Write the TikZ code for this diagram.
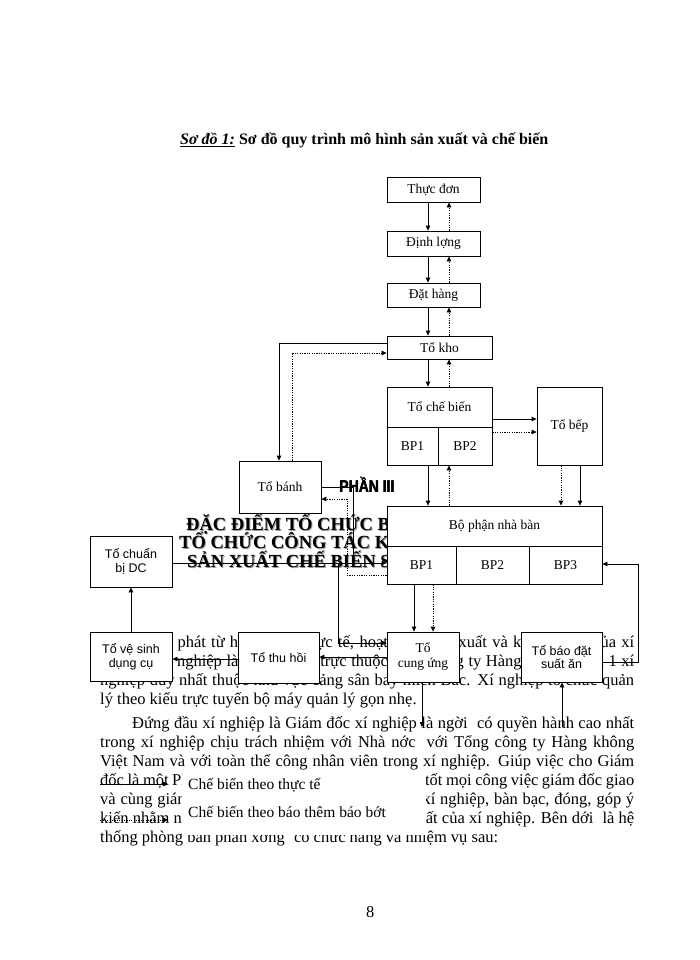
\documentclass[tikz,border=0pt]{standalone}
\usepackage{fontspec}
\usepackage{graphicx}
\setmainfont{Liberation Serif}
\newfontfamily\sansfam{Liberation Sans}
\usetikzlibrary{arrows.meta,calc}
\newcommand\fbody{\fontsize{16.5pt}{19pt}\selectfont}
\newcommand\flab{\fontsize{13.5pt}{15pt}\selectfont}
\newcommand\fsans{\sansfam\fontsize{12.5pt}{13.5pt}\selectfont}
\newcommand\fhead{\bfseries\fontsize{18.5pt}{20pt}\selectfont}
\newcommand\ftitle{\fontsize{16pt}{18pt}\selectfont}
\newcommand\fleg{\fontsize{15.5pt}{18pt}\selectfont}
\newcommand\fpart{\sansfam\bfseries\fontsize{17pt}{17pt}\selectfont}
\newcommand\jline[4]{\node[txt] (#1) at (#2,#3) {\makebox[\dimexpr 634pt-#2pt\relax][s]{#4}};}
\begin{document}
\begin{tikzpicture}[x=1pt,y=-1pt,
 box/.style={draw, fill=white, line width=0.8pt, inner sep=0pt, align=center, font=\flab},
 sbox/.style={box, font=\fsans},
 ln/.style={line width=0.8pt},
 sol/.style={ln, -{Triangle[length=5pt,width=4.5pt]}},
 dot/.style={ln, dash pattern=on 1.2pt off 1.2pt, -{Triangle[length=5pt,width=4.5pt]}},
 txt/.style={anchor=base west, inner sep=0pt, font=\fbody},
 hd/.style={anchor=base west, inner sep=0pt, font=\fhead},
 hds/.style={hd, text=black!40},
 pt/.style={anchor=base west, inner sep=0pt, font=\fpart},
]
\useasboundingbox[fill=white] (0,0) rectangle (700,960);

% title
\node[anchor=base west, inner sep=0pt, font=\ftitle] (ttl) at (180,145) {\textbf{\textit{\underline{Sơ đồ 1:}}} \textbf{Sơ đồ quy trình mô hình sản xuất và chế biến}};

% heading
\node[pt] (ph0) at (339,492) {\scalebox{0.82}[1]{PHẦN III}};
\node[pt] (ph1) at (339.5,492) {\scalebox{0.82}[1]{PHẦN III}};
\node[pt] (ph2) at (339.25,492.4) {\scalebox{0.82}[1]{PHẦN III}};
\node[hds] (h1s) at (187,531) {ĐẶC ĐIỂM TỔ CHỨC BỘ MÁY};
\node[hd] (h1) at (186,530) {ĐẶC ĐIỂM TỔ CHỨC BỘ MÁY};
\node[hds] (h2s) at (180,549.5) {TỔ CHỨC CÔNG TÁC KẾ TOÁN};
\node[hd] (h2) at (179,548.5) {TỔ CHỨC CÔNG TÁC KẾ TOÁN};
\node[hds] (h3s) at (188,568) {SẢN XUẤT CHẾ BIẾN SUẤT ĂN};
\node[hd] (h3) at (187,567) {SẢN XUẤT CHẾ BIẾN SUẤT ĂN};

% body text
\jline{r1}{140}{647}{Xuất phát từ hoàn cảnh thực tế, hoạt động sản xuất và kinh doanh của xí}
\jline{r2}{100}{666}{nghiệp. Xí nghiệp là một đơn vị trực thuộc Tổng công ty Hàng không và là 1 xí}
\jline{r3}{100}{685}{nghiệp duy nhất thuộc khu vực cảng sân bay miền Bắc. Xí nghiệp tổ chức quản}
\node[txt] (r4) at (100,704) {lý theo kiểu trực tuyến bộ máy quản lý gọn nhẹ.};
\jline{r5}{132}{728}{Đứng đầu xí nghiệp là Giám đốc xí nghiệp là ngời\hspace{5pt} có quyền hành cao nhất}
\jline{r6}{100}{747}{trong xí nghiệp chịu trách nhiệm với Nhà nớc\hspace{5pt} với Tổng công ty Hàng không}
\jline{r7}{100}{766}{Việt Nam và với toàn thể công nhân viên trong xí nghiệp. Giúp việc cho Giám}
\jline{r8}{100}{785}{đốc là một Phó giám đốc có nhiệm vụ hoàn thành tốt mọi công việc giám đốc giao}
\jline{r9}{100}{804}{và cùng giám đốc điều hành mọi hoạt động của xí nghiệp, bàn bạc, đóng, góp ý}
\jline{r10}{100}{823}{kiến nhằm nâng cao hơn nữa hiệu quả của sản xuất của xí nghiệp. Bên dới\hspace{5pt} là hệ}
\node[txt] (r11) at (100,842) {thống phòng ban phân xởng\hspace{5pt} có chức năng và nhiệm vụ sau:};
\node[txt] (pg) at (366,917) {8};

% boxes
\node[box, minimum width=93pt, minimum height=25pt] (td) at (433.5,189.5) {Thực đơn};
\node[box, minimum width=93pt, minimum height=25pt] (dl) at (433.5,243.5) {Định lợng};
\node[box, minimum width=93pt, minimum height=24pt] (dh) at (433.5,295) {Đặt hàng};
\node[box, minimum width=105pt, minimum height=23pt] (tk) at (439.5,347.5) {Tổ kho};
\node[box, minimum width=105pt, minimum height=40pt] (tcb) at (439.5,407) {Tổ chế biến};
\node[box, minimum width=51pt, minimum height=38pt] (cb1) at (412.5,446) {BP1};
\node[box, minimum width=54pt, minimum height=38pt] (cb2) at (465,446) {BP2};
\node[box, minimum width=65pt, minimum height=78pt] (tbep) at (569.5,426) {Tổ bếp};
\node[box, minimum width=82pt, minimum height=52pt] (tbanh) at (280,487) {Tổ bánh};
\node[box, minimum width=215pt, minimum height=40pt] (bpt) at (494.5,526) {Bộ phận nhà bàn};
\node[box, minimum width=69pt, minimum height=38pt] (bp1) at (421.5,565) {BP1};
\node[box, minimum width=73pt, minimum height=38pt] (bp2) at (492.5,565) {BP2};
\node[box, minimum width=73pt, minimum height=38pt] (bp3) at (565.5,565) {BP3};
\node[sbox, minimum width=82pt, minimum height=51pt] (tdc) at (131,561.5) {Tổ chuẩn\\bị DC};
\node[sbox, minimum width=82pt, minimum height=49pt] (tvs) at (131,656.5) {Tổ vệ sinh\\dụng cụ};
\node[sbox, minimum width=81pt, minimum height=51pt] (tth) at (278.5,657.5) {Tổ thu hồi};
\node[box, minimum width=72pt, minimum height=50pt] (tcu) at (423,657) {Tổ\\cung ứng};
\node[sbox, minimum width=81pt, minimum height=50pt] (tbd) at (561.5,657) {Tổ báo đặt\\suất ăn};

% coordinates
\coordinate (vA) at (428,0);
\coordinate (vB) at (449,0);
\coordinate (vC) at (561,0);
\coordinate (vD) at (580,0);
\coordinate (vE) at (414,0);
\coordinate (vF) at (433,0);
\coordinate (vG) at (422,0);
\coordinate (hK1) at (279,343);
\coordinate (hK2) at (292,353);
\coordinate (hA) at (0,419);
\coordinate (hB) at (0,432);
\coordinate (j1) at (353,563);
\coordinate (j2) at (338,563);
\coordinate (hT) at (0,487);
\coordinate (hC) at (0,643);
\coordinate (q1) at (0,575);
\coordinate (q2) at (347,499);
\coordinate (hU) at (0,657);
\coordinate (hV) at (0,659);
\coordinate (r1c) at (0,662);
\coordinate (r2c) at (638,564);
\coordinate (e1) at (422,727);
\coordinate (e2) at (562,727);

% connectors
\draw[sol] (td.south -| vA) -- (dl.north -| vA);
\draw[dot] (dl.north -| vB) -- (td.south -| vB);
\draw[sol] (dl.south -| vA) -- (dh.north -| vA);
\draw[dot] (dh.north -| vB) -- (dl.south -| vB);
\draw[sol] (dh.south -| vA) -- (tk.north -| vA);
\draw[dot] (tk.north -| vB) -- (dh.south -| vB);
\draw[sol] (tk.south -| vA) -- (tcb.north -| vA);
\draw[dot] (tcb.north -| vB) -- (tk.south -| vB);
\draw[sol] (tk.west |- hK1) -| (tbanh.north -| hK1);
\draw[dot] (tbanh.north -| hK2) |- (tk.west |- hK2);
\draw[sol] (tcb.east |- hA) -- (tbep.west |- hA);
\draw[dot] (cb2.east |- hB) -- (tbep.west |- hB);
\draw[sol] (cb1.south -| vA) -- (bpt.north -| vA);
\draw[dot] (bpt.north -| vB) -- (cb2.south -| vB);
\draw[dot] (tbep.south -| vC) -- (bpt.north -| vC);
\draw[sol] (tbep.south -| vD) -- (bpt.north -| vD);
\draw[ln] (tbanh.east |- hT) -| (j1);
\draw[sol] (tdc.east |- j1) -- (bp1.west |- j1);
\draw[sol] (j2) |- (tcu.west |- hC);
\draw[dot] (bp1.west |- q1) -| (q2) -- (tbanh.east |- q2);
\draw[sol] (bp1.south -| vE) -- (tcu.north -| vE);
\draw[dot] (bp1.south -| vF) -- (tcu.north -| vF);
\draw[sol] (tcu.west |- hU) -- (tth.east |- hU);
\draw[sol] (tth.west |- hV) -- (tvs.east |- hV);
\draw[sol] (tvs.north) -- (tdc.south);
\draw[sol] (tbd.east |- r1c) -| (r2c) -- (bp3.east |- r2c);
\draw[sol] (tcu.south -| vG) -- (e1);
\draw[sol] (e2) -- (tbd.south -| e2);

% legend
\fill[white] (182,771) rectangle (426,834.5);
\coordinate (ls1) at (100,784);
\coordinate (le1) at (168,784);
\coordinate (ls2) at (100,820);
\coordinate (le2) at (168,820);
\draw[sol] (ls1) -- (le1);
\draw[dot] (ls2) -- (le2);
\node[anchor=base west, inner sep=0pt, font=\fleg] (lg1) at (188,789) {Chế biến theo thực tế};
\node[anchor=base west, inner sep=0pt, font=\fleg] (lg2) at (188,817) {Chế biến theo báo thêm báo bớt};
\end{tikzpicture}
\end{document}
